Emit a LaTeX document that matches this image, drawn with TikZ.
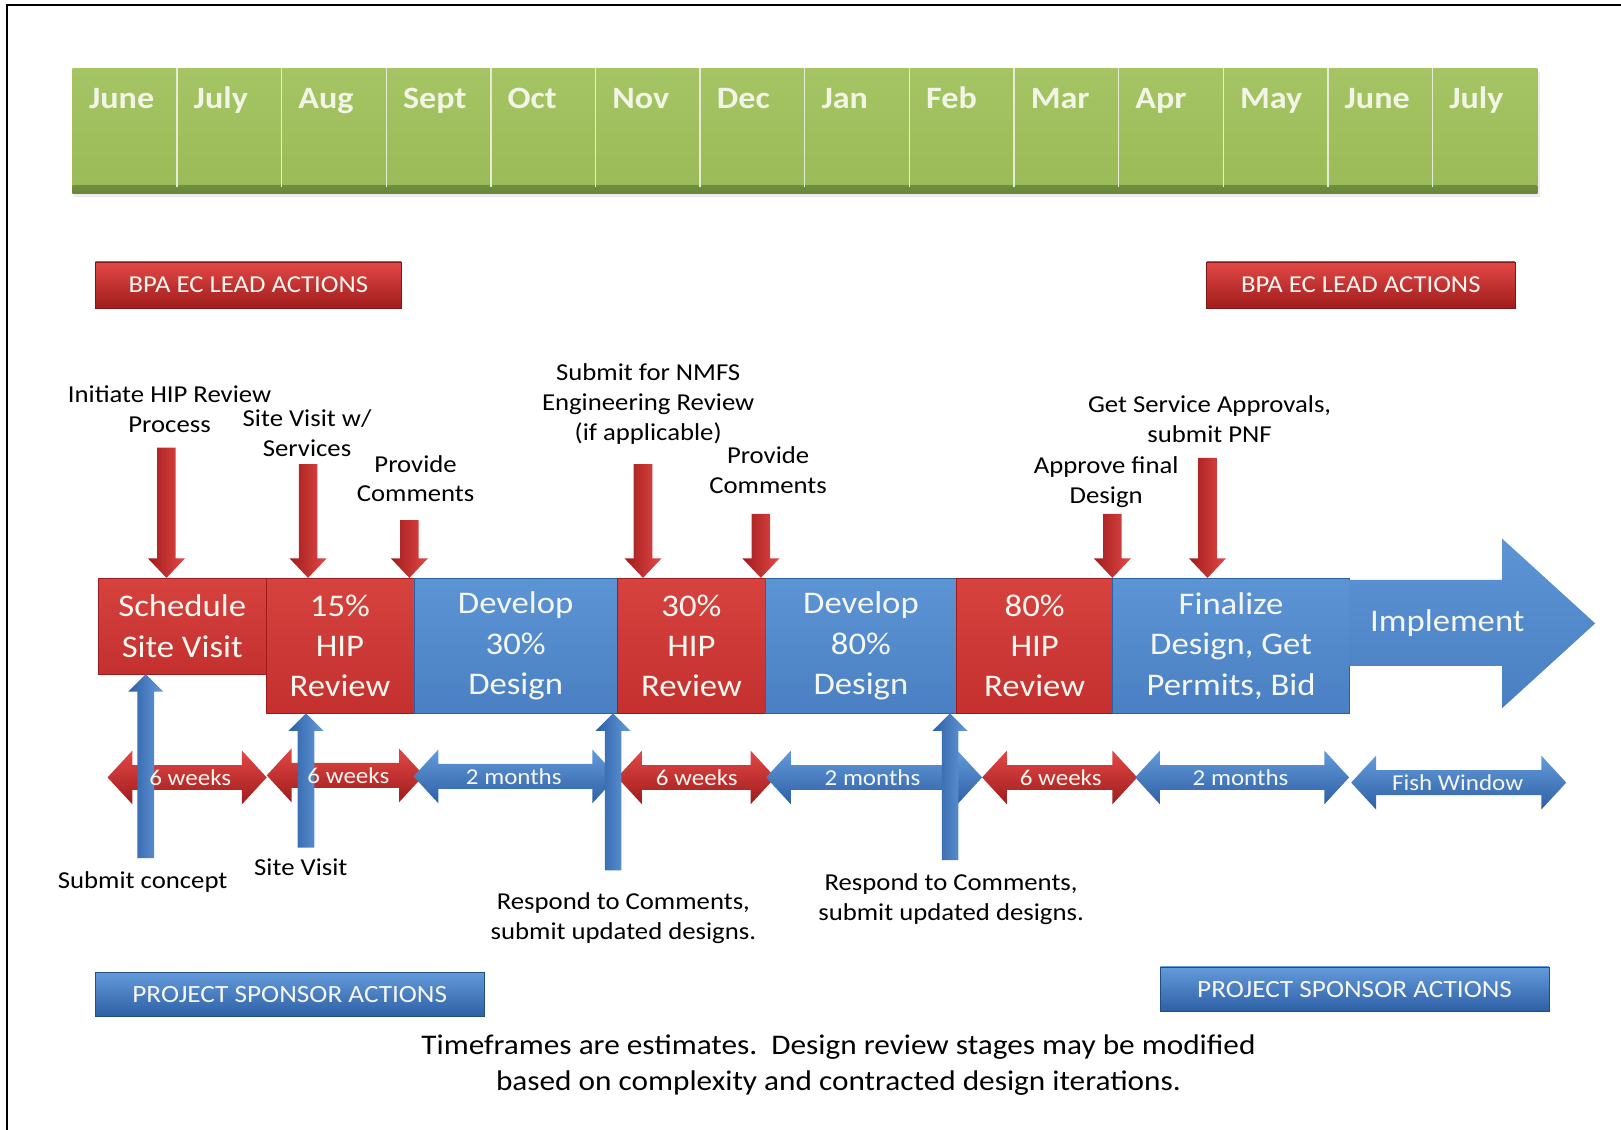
\documentclass[tikz,border=0pt]{standalone}
\usepackage{fontspec}
\setmainfont{Carlito}[FakeStretch=1.1]
\usetikzlibrary{calc}
\newcommand\fs[2]{\fontsize{#1}{#2}\selectfont}
\definecolor{grn}{RGB}{155,187,89}
\definecolor{grnL}{RGB}{165,197,100}
\definecolor{grnD}{RGB}{105,135,58}
\definecolor{divc}{RGB}{228,236,212}
\definecolor{mtxt}{RGB}{242,244,230}
\definecolor{redB}{RGB}{196,48,46}
\definecolor{redBL}{RGB}{214,66,62}
\definecolor{redD}{RGB}{160,28,28}
\definecolor{redL}{RGB}{226,72,70}
\definecolor{bluB}{RGB}{74,128,195}
\definecolor{bluBL}{RGB}{92,148,212}
\definecolor{bluD}{RGB}{45,95,165}
\definecolor{bluL}{RGB}{100,155,218}
\definecolor{txtW}{RGB}{246,246,240}
% red down arrow: x, ytop, ytip
\newcommand\downarr[3]{%
  \shade[left color=redD, right color=redL]
    ({#1-9},#2) -- ({#1+9},#2) -- ({#1+9},{#3-19}) -- ({#1+18},{#3-19}) -- (#1,#3)
    -- ({#1-18},{#3-19}) -- ({#1-9},{#3-19}) -- cycle;}
% blue up arrow: x, ybottom, ytip
\newcommand\uparr[3]{%
  \shade[left color=bluD, right color=bluL]
    ({#1-8},#2) -- ({#1+8},#2) -- ({#1+8},{#3+17}) -- ({#1+17},{#3+17}) -- (#1,#3)
    -- ({#1-17},{#3+17}) -- ({#1-8},{#3+17}) -- cycle;}
% double arrow shape: x1, x2, yc, top colour, bottom colour
\newcommand\dblarr[5]{%
  \shade[top color=#4, bottom color=#5]
    (#1,#3) -- ({#1+24},{#3-26}) -- ({#1+24},{#3-12}) -- ({#2-24},{#3-12})
    -- ({#2-24},{#3-26}) -- (#2,#3) -- ({#2-24},{#3+26}) -- ({#2-24},{#3+12})
    -- ({#1+24},{#3+12}) -- ({#1+24},{#3+26}) -- cycle;}
\begin{document}
\begin{tikzpicture}[x=1pt,y=-1pt,
  lbl/.style={font=\fs{23.5}{29}, align=center, inner sep=0pt, text=black},
  month/.style={font=\fs{30}{36}\bfseries, text=mtxt, anchor=base west, inner sep=0pt},
  dtxt/.style={font=\fs{22}{24}, text=txtW, inner sep=0pt},
  procbox/.style={font=\fs{30.5}{39}, align=center, text=txtW, inner sep=0pt,
    anchor=north west, line width=0.6},
  rbox/.style={procbox, top color=redBL, bottom color=redB, draw=redD},
  bbox/.style={procbox, top color=bluBL, bottom color=bluB, draw=bluD},
  bpabox/.style={top color=redL, bottom color=redD, draw=redD!80!black, line width=0.6,
    font=\fs{23.5}{28}, text=txtW, inner sep=0pt, anchor=north west},
  psbox/.style={top color=bluL, bottom color=bluD, draw=bluD!80!black, line width=0.6,
    font=\fs{24}{28}, text=txtW, inner sep=0pt, anchor=north west},
  caption/.style={font=\fs{27.5}{35}, align=center, inner sep=0pt, text=black}]
\useasboundingbox (0,0) rectangle (1568,1093);
\fill[white] (0,0) rectangle (1568,1093);
% frame
\draw[line width=2] (7,1093) -- (7,5) -- (1568,5);
% month bar
\fill[black!8] (72,70) rectangle (1490,191);
\shade[top color=grnL, bottom color=grn] (70,66) rectangle (1487,179);
\shade[top color=grnD!85!grn, bottom color=grnD] (70,179) rectangle (1487,187);
\foreach \k in {1,...,13}{
  \draw[divc, line width=1.3] ({70+\k*101.21},66) -- ({70+\k*101.21},181);}
\foreach \m [count=\k from 0] in {June,July,Aug,Sept,Oct,Nov,Dec,Jan,Feb,Mar,Apr,May,June,July}{
  \node[month] (m\k) at ({86+\k*101.21},105) {\m};}
% lead / sponsor boxes
\node[bpabox, minimum width=296, minimum height=45] (bpa1) at (92,253) {BPA EC LEAD ACTIONS};
\node[bpabox, minimum width=298, minimum height=45] (bpa2) at (1167,253) {BPA EC LEAD ACTIONS};
\node[psbox, minimum width=376, minimum height=43] (ps1) at (92,940) {PROJECT SPONSOR ACTIONS};
\node[psbox, minimum width=376, minimum height=43] (ps2) at (1122,935) {PROJECT SPONSOR ACTIONS};
% top labels
\node[lbl] (l1) at (164,396) {Initiate HIP Review\\Process};
\node[lbl] (l2) at (297,419) {Site Visit w/\\Services};
\node[lbl] (l3) at (402,463) {Provide\\Comments};
\node[lbl] (l4) at (627,391) {Submit for NMFS\\Engineering Review\\(if applicable)};
\node[lbl] (l5) at (743,455) {Provide\\Comments};
\node[lbl] (l6) at (1070,466) {Approve final\\Design};
\node[lbl] (l7) at (1170,405) {Get Service Approvals,\\submit PNF};
% process row
\node[rbox, minimum width=162, minimum height=93] (sched) at (95,559) {Schedule\\Site Visit};
\node[rbox, minimum width=143, minimum height=131] (hip15) at (257,559) {15\%\\HIP\\Review};
\node[bbox, minimum width=197, minimum height=131] (dev30) at (400,559) {Develop\\30\%\\Design};
\node[rbox, minimum width=143, minimum height=131] (hip30) at (597,559) {30\%\\HIP\\Review};
\node[bbox, minimum width=185, minimum height=131] (dev80) at (740,559) {Develop\\80\%\\Design};
\node[rbox, minimum width=151, minimum height=131] (hip80) at (925,559) {80\%\\HIP\\Review};
\node[bbox, minimum width=229, minimum height=131] (fin) at (1076,559) {Finalize\\Design, Get\\Permits, Bid};
\shade[top color=bluBL, bottom color=bluB]
  (1305,561) -- (1453,561) -- (1453,521) -- (1543,603) -- (1453,685) -- (1453,644) -- (1305,644) -- cycle;
\node[font=\fs{30.5}{39}, text=txtW, inner sep=0pt] (impl) at (1400,603) {Implement};
% red down arrows (BPA actions)
\downarr{161}{433}{559}
\downarr{298}{449}{559}
\downarr{396}{503}{559}
\downarr{622}{449}{559}
\downarr{736}{497}{559}
\downarr{1076}{497}{559}
\downarr{1168}{443}{559}
% durations (shapes)
\dblarr{104}{258}{752}{redL}{redD}
\dblarr{258}{410}{750}{redL}{redD}
\dblarr{400}{597}{751}{bluL}{bluD}
\dblarr{597}{750}{752}{redL}{redD}
\dblarr{741}{950}{752}{bluL}{bluD}
\dblarr{950}{1100}{752}{redL}{redD}
\dblarr{1098}{1305}{752}{bluL}{bluD}
\dblarr{1307}{1515}{757}{bluL}{bluD}
% blue up arrows (sponsor actions)
\uparr{141}{830}{652}
\uparr{296}{820}{690}
\uparr{593}{842}{690}
\uparr{919}{832}{690}
% duration texts
\node[dtxt] (d1) at (184,752) {6 weeks};
\node[dtxt] (d2) at (337,750) {6 weeks};
\node[dtxt] (d3) at (497,751) {2 months};
\node[dtxt] (d4) at (674,752) {6 weeks};
\node[dtxt] (d5) at (844,752) {2 months};
\node[dtxt] (d6) at (1026,752) {6 weeks};
\node[dtxt] (d7) at (1200,752) {2 months};
\node[dtxt] (d8) at (1410,757) {Fish Window};
% bottom labels
\node[lbl] (b1) at (138,853) {Submit concept};
\node[lbl] (b2) at (291,839) {Site Visit};
\node[lbl] (b3) at (603,888) {Respond to Comments,\\submit updated designs.};
\node[lbl] (b4) at (920,870) {Respond to Comments,\\submit updated designs.};
% caption
\node[caption] (cap) at (811,1030) {Timeframes are estimates.\ \ Design review stages may be modified\\based on complexity and contracted design iterations.};
\end{tikzpicture}
\end{document}
